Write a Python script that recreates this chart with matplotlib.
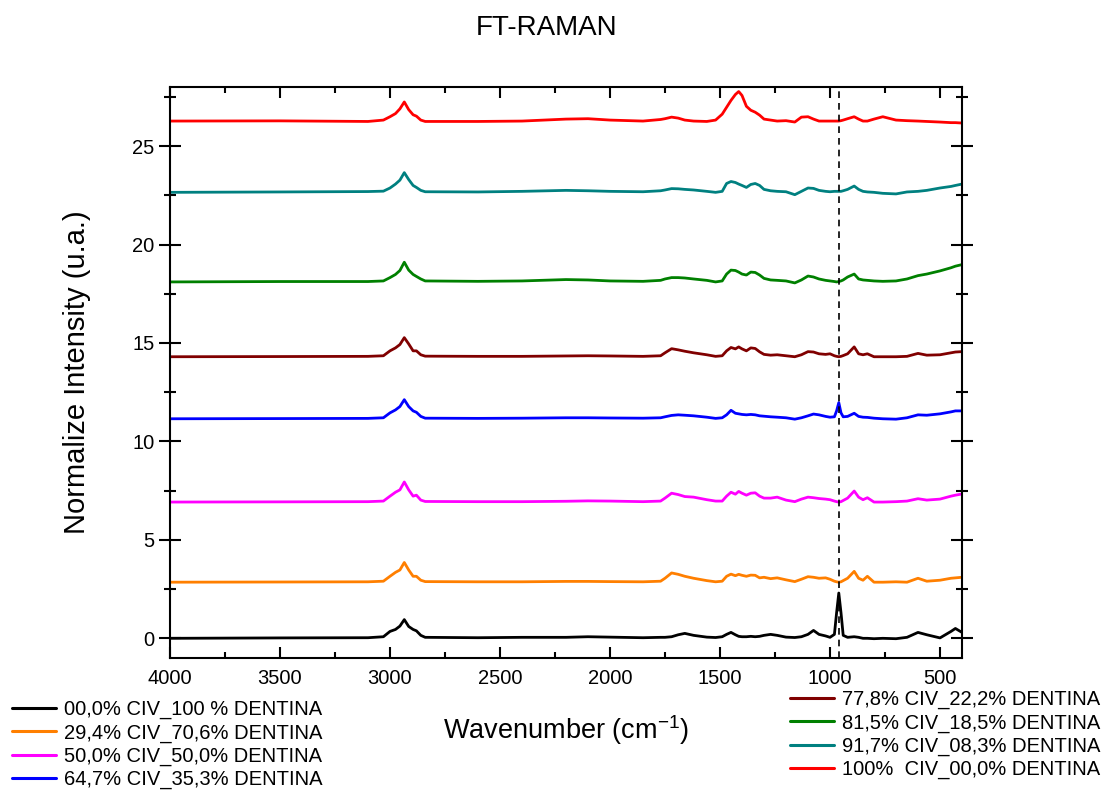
import matplotlib
matplotlib.use("Agg")
import matplotlib.pyplot as plt
from matplotlib.ticker import MultipleLocator

plt.rcParams['font.family'] = ['Liberation Sans', 'DejaVu Sans']
plt.rcParams['mathtext.fontset'] = 'custom'
plt.rcParams['mathtext.rm'] = 'Liberation Sans'
plt.rcParams['mathtext.it'] = 'Liberation Sans:italic'

wavenumber = [4000, 3500, 3100, 3030, 3000, 2975, 2955, 2935, 2915, 2895, 2880, 2860, 2840,
              2600, 2400, 2200, 2100, 2000, 1850, 1770, 1750, 1720, 1690, 1660, 1620, 1560,
              1520, 1490, 1470, 1450, 1430, 1415, 1400, 1380, 1360, 1340, 1320, 1300, 1270,
              1240, 1200, 1160, 1130, 1100, 1075, 1050, 1020, 1000, 980, 970, 960, 950, 940,
              920, 890, 870, 850, 830, 800, 760, 700, 650, 600, 560, 500, 450, 430, 400]

labels = ["00,0% CIV_100 % DENTINA", "29,4% CIV_70,6% DENTINA", "50,0% CIV_50,0% DENTINA",
          "64,7% CIV_35,3% DENTINA", "77,8% CIV_22,2% DENTINA", "81,5% CIV_18,5% DENTINA",
          "91,7% CIV_08,3% DENTINA", "100%  CIV_00,0% DENTINA"]
colors = ["#000000", "#ff7f00", "#ff00ff", "#0000ff", "#800000", "#008000", "#008080", "#ff0000"]

# Vertical offset (baseline) of each stacked spectrum
baselines = [0.0, 2.85, 6.92, 11.15, 14.3, 18.1, 22.65, 26.27]

# Intensity above each baseline, read at the wavenumber grid
civ_000 = [0.0, 0.02, 0.03, 0.08, 0.35, 0.45, 0.62, 0.95, 0.6, 0.45, 0.38, 0.15, 0.05,
           0.03, 0.05, 0.05, 0.08, 0.06, 0.03, 0.05, 0.05, 0.08, 0.18, 0.25, 0.15, 0.06,
           0.04, 0.08, 0.2, 0.3, 0.18, 0.1, 0.08, 0.08, 0.1, 0.08, 0.1, 0.15, 0.2,
           0.15, 0.06, 0.04, 0.08, 0.2, 0.4, 0.2, 0.12, 0.05, 0.2, 1.3, 2.3, 1.3, 0.15,
           0.05, 0.08, 0.05, 0.0, 0.0, -0.02, 0.0, -0.02, 0.05, 0.3, 0.18, 0.02, 0.35, 0.5, 0.3]
civ_294 = [0.0, 0.01, 0.02, 0.05, 0.3, 0.5, 0.62, 1.0, 0.62, 0.3, 0.3, 0.1, 0.03,
           0.02, 0.02, 0.04, 0.04, 0.03, 0.02, 0.05, 0.2, 0.47, 0.4, 0.3, 0.2, 0.08,
           0.02, 0.05, 0.3, 0.41, 0.33, 0.4, 0.35, 0.3, 0.36, 0.35, 0.22, 0.25, 0.18,
           0.22, 0.12, 0.03, 0.15, 0.28, 0.25, 0.2, 0.22, 0.15, 0.05, 0.02, 0.0, 0.02, 0.08,
           0.2, 0.55, 0.2, 0.1, 0.3, 0.0, 0.0, 0.02, 0.0, 0.2, 0.05, 0.1, 0.2, 0.22, 0.25]
civ_500 = [0.0, 0.01, 0.02, 0.05, 0.3, 0.5, 0.62, 1.02, 0.62, 0.3, 0.35, 0.1, 0.03,
           0.02, 0.02, 0.04, 0.06, 0.05, 0.02, 0.05, 0.2, 0.45, 0.38, 0.28, 0.25, 0.12,
           0.05, 0.05, 0.3, 0.5, 0.4, 0.54, 0.45, 0.35, 0.45, 0.47, 0.3, 0.2, 0.2,
           0.25, 0.1, 0.02, 0.15, 0.25, 0.22, 0.18, 0.15, 0.12, 0.05, 0.02, 0.0, 0.02, 0.08,
           0.2, 0.56, 0.25, 0.12, 0.22, 0.0, 0.0, 0.02, 0.05, 0.17, 0.1, 0.15, 0.3, 0.35, 0.41]
civ_647 = [0.0, 0.01, 0.02, 0.05, 0.3, 0.45, 0.62, 0.97, 0.62, 0.4, 0.33, 0.12, 0.03,
           0.02, 0.03, 0.05, 0.05, 0.04, 0.03, 0.05, 0.1, 0.17, 0.2, 0.18, 0.15, 0.08,
           0.02, 0.05, 0.2, 0.43, 0.28, 0.25, 0.22, 0.2, 0.22, 0.2, 0.15, 0.13, 0.1,
           0.08, 0.05, -0.02, 0.05, 0.15, 0.24, 0.2, 0.12, 0.08, 0.1, 0.4, 0.82, 0.3, 0.1,
           0.12, 0.28, 0.12, 0.08, 0.07, 0.03, 0.0, -0.02, 0.05, 0.2, 0.18, 0.25, 0.35, 0.4, 0.4]
civ_778 = [0.0, 0.01, 0.02, 0.05, 0.3, 0.45, 0.62, 0.97, 0.65, 0.3, 0.3, 0.1, 0.03,
           0.02, 0.02, 0.04, 0.05, 0.04, 0.02, 0.05, 0.2, 0.41, 0.35, 0.28, 0.2, 0.1,
           0.02, 0.05, 0.3, 0.47, 0.4, 0.5, 0.4, 0.3, 0.45, 0.42, 0.25, 0.12, 0.08,
           0.1, 0.05, 0.0, 0.1, 0.26, 0.24, 0.15, 0.12, 0.15, 0.05, 0.02, 0.0, 0.02, 0.06,
           0.15, 0.5, 0.15, 0.1, 0.15, 0.0, 0.0, 0.0, 0.02, 0.17, 0.08, 0.1, 0.2, 0.24, 0.26]
civ_815 = [0.0, 0.02, 0.02, 0.05, 0.22, 0.38, 0.58, 1.0, 0.6, 0.38, 0.28, 0.15, 0.05,
           0.03, 0.05, 0.12, 0.1, 0.05, 0.03, 0.08, 0.15, 0.22, 0.22, 0.2, 0.15, 0.08,
           0.0, 0.05, 0.4, 0.6, 0.58, 0.5, 0.4, 0.35, 0.5, 0.48, 0.35, 0.18, 0.1,
           0.08, 0.05, -0.05, 0.1, 0.3, 0.25, 0.15, 0.08, 0.05, 0.02, 0.0, 0.02, 0.05, 0.1,
           0.25, 0.4, 0.15, 0.1, 0.08, 0.05, 0.03, 0.05, 0.15, 0.32, 0.4, 0.56, 0.72, 0.8, 0.88]
civ_917 = [0.0, 0.02, 0.04, 0.06, 0.22, 0.42, 0.62, 1.0, 0.65, 0.35, 0.25, 0.1, 0.03,
           0.02, 0.05, 0.1, 0.08, 0.05, 0.03, 0.08, 0.12, 0.19, 0.18, 0.15, 0.12, 0.05,
           0.0, 0.05, 0.45, 0.55, 0.5, 0.42, 0.35, 0.25, 0.4, 0.45, 0.35, 0.15, 0.08,
           0.05, 0.03, -0.12, 0.05, 0.22, 0.2, 0.1, 0.05, 0.03, 0.05, 0.05, 0.05, 0.05, 0.08,
           0.15, 0.32, 0.15, 0.05, 0.02, 0.0, -0.05, -0.08, 0.02, 0.05, 0.1, 0.22, 0.3, 0.35, 0.42]
civ_100 = [0.0, 0.01, -0.02, 0.05, 0.22, 0.38, 0.62, 0.97, 0.58, 0.32, 0.25, 0.05, -0.02,
           -0.02, 0.0, 0.1, 0.12, 0.05, 0.0, 0.08, 0.12, 0.2, 0.15, 0.05, 0.0, -0.02,
           0.05, 0.35, 0.7, 1.05, 1.35, 1.5, 1.3, 0.75, 0.55, 0.45, 0.3, 0.1, 0.05,
           0.0, 0.02, -0.05, 0.2, 0.22, 0.1, 0.0, 0.0, 0.0, 0.0, 0.0, 0.0, 0.02, 0.05,
           0.12, 0.22, 0.1, 0.0, 0.0, 0.1, 0.22, 0.05, 0.02, 0.0, -0.02, -0.05, -0.08, -0.08, -0.1]

series = [civ_000, civ_294, civ_500, civ_647, civ_778, civ_815, civ_917, civ_100]

phosphate_line = 960

fig = plt.figure(figsize=(11.02, 7.90), dpi=100)
ax = fig.add_axes([170/1102, 1-658/790, (962-170)/1102, (658-87)/790])

handles = []
for vals, base, col, lab in zip(series, baselines, colors, labels):
    y = [base + v for v in vals]
    h, = ax.plot(wavenumber, y, color=col, lw=2.0, label=lab,
                 solid_joinstyle='round', solid_capstyle='round')
    handles.append(h)

ax.axvline(phosphate_line, color='black', lw=1.2, ls=(0, (4, 3)))

ax.set_xlim(4000, 400)
ax.set_ylim(-1, 28)
ax.xaxis.set_major_locator(MultipleLocator(500))
ax.xaxis.set_minor_locator(MultipleLocator(250))
ax.yaxis.set_major_locator(MultipleLocator(5))
ax.yaxis.set_minor_locator(MultipleLocator(2.5))

for s in ax.spines.values():
    s.set_linewidth(1.5)

ax.tick_params(axis='x', which='major', direction='in', length=8, width=1.5,
               labelsize=14.5, pad=8, top=True)
ax.tick_params(axis='x', which='minor', direction='in', length=4, width=1.5, top=True)
ax.tick_params(axis='y', which='major', direction='inout', length=16, width=1.5,
               labelsize=14.5, pad=3, right=True)
ax.tick_params(axis='y', which='minor', direction='inout', length=8, width=1.5, right=True)

ax.set_xlabel('Wavenumber (cm$^{-1}$)', fontsize=19.5, labelpad=18)
ax.set_ylabel('Normalize Intensity (u.a.)', fontsize=21, labelpad=30)

fig.text(547/1102, 1-28/790, 'FT-RAMAN', ha='center', va='center', fontsize=20)

leg_kw = dict(loc='upper left', frameon=False, fontsize=14.5, handlelength=2.2,
              handletextpad=0.4, labelspacing=0.2, borderpad=0, borderaxespad=0)
leg1 = fig.legend(handles=handles[:4], bbox_to_anchor=(12/1102, 1-700/790), **leg_kw)
leg2 = fig.legend(handles=handles[4:], bbox_to_anchor=(790/1102, 1-690/790), **leg_kw)
for leg in (leg1, leg2):
    for l in leg.get_lines():
        l.set_linewidth(2.2)

fig.savefig('out.png', dpi=100)
